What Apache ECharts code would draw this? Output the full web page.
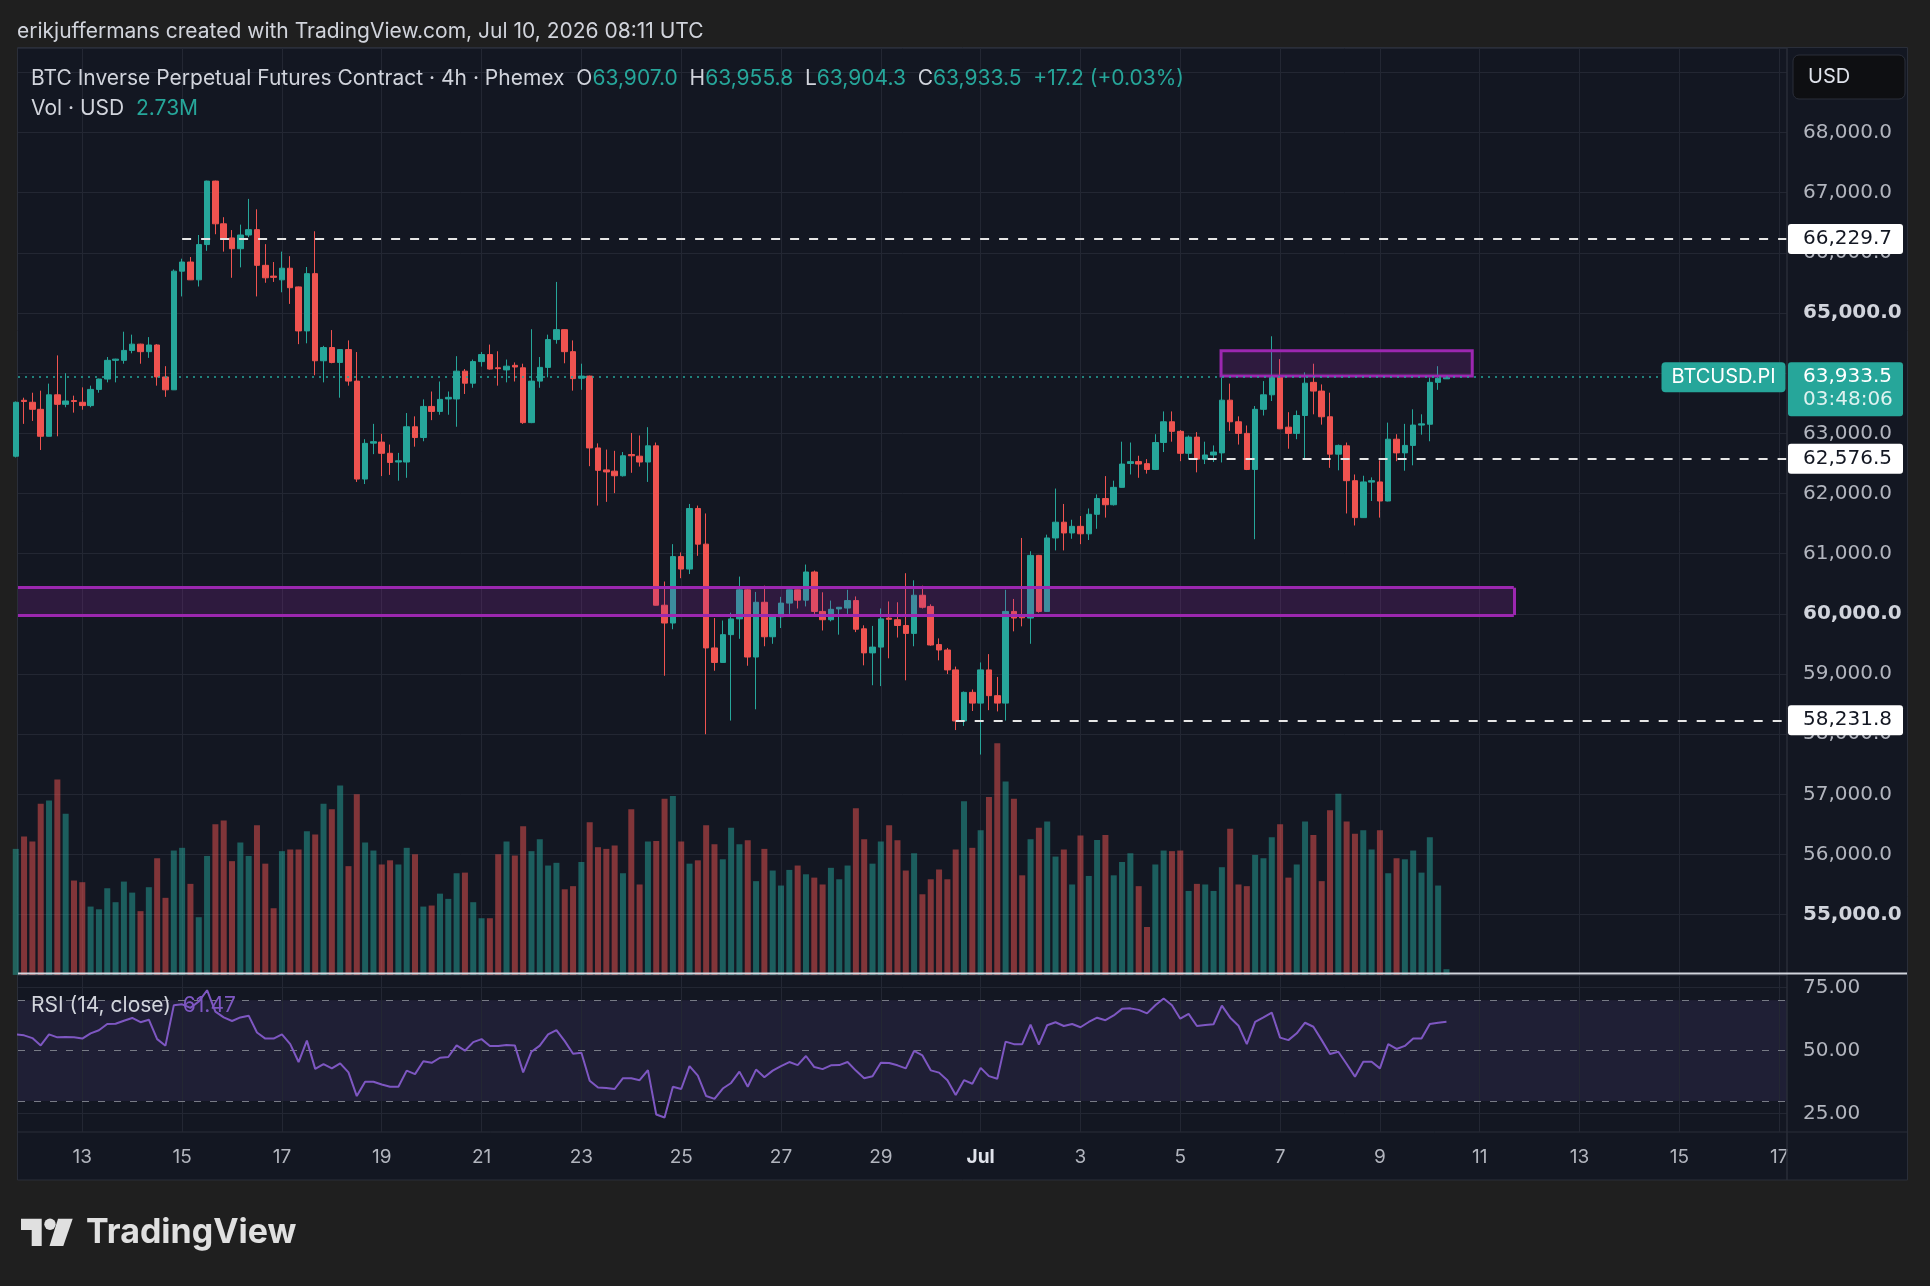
<!DOCTYPE html>
<html>
<head>
<meta charset="utf-8">
<title>BTCUSD.PI 4h</title>
<script src="https://cdn.jsdelivr.net/npm/echarts@6/dist/echarts.min.js"></script>
<style>
  html, body { margin: 0; padding: 0; background: #1f1f1f; }
  #chart { width: 1930px; height: 1286px; }
</style>
</head>
<body>
<div id="chart"></div>
<script>
// bar index 0 = Jun 13 00:00, one step = one 4h bar
const firstIndex = -8

const opens = [
  62620, 63550, 63517, 63400, 62952, 63641, 63483, 63545,
  63517, 63462, 63731, 63903, 64214, 64214, 64379, 64483, 64358, 64469,
  63938, 63724, 65696, 65848, 65552, 66138, 67193, 66483, 66248, 66069,
  66297, 66386, 65793, 65614, 65552, 65745, 65434, 64703, 65655, 64207,
  64427, 64179, 64393, 63869, 62241, 62838, 62855, 62669, 62524, 62524,
  63110, 62931, 63448, 63365, 63572, 63572, 64034, 63834, 64193, 64310,
  64090, 64055, 64131, 64090, 63179, 63869, 64097, 64559, 64724, 64358,
  63917, 63952, 62758, 62393, 62372, 62296, 62648, 62621, 62524, 62793,
  60144, 59848, 60952, 60745, 61752, 61159, 59434, 59193, 59655, 59917,
  60400, 59283, 60193, 59620, 59952, 60179, 60400, 60228, 60696, 60041,
  59903, 60083, 60097, 60221, 59752, 59352, 59448, 59930, 59903, 59807,
  59676, 60310, 60124, 59490, 59400, 59069, 58220, 58696, 58517, 59069,
  58641, 58517, 60041, 59959, 59931, 60972, 60041, 61262, 61524, 61345,
  61455, 61331, 61655, 61917, 61814, 62103, 62500, 62531, 62497, 62400,
  62848, 63193, 63034, 62669, 62938, 62572, 62641, 62676, 63552, 63193,
  63000, 62400, 63400, 63641, 63931, 63103, 63000, 63297, 63848, 63703,
  63276, 62655, 62793, 62214, 61600, 62190, 62193, 61876, 62903, 62676,
  62800, 63138, 63152, 63848, 63907.0
]
const highs = [
  63530, 63593, 63676, 63710, 63827, 64296, 64000, 63627,
  63765, 63793, 63910, 64269, 64240, 64690, 64641, 64490, 64600, 64483,
  64117, 65724, 65903, 65931, 66297, 67200, 67200, 66593, 66379, 66469,
  66897, 66724, 66145, 65848, 66021, 65945, 65440, 65765, 66359, 64455,
  64717, 64400, 64545, 64352, 62903, 63158, 62993, 62814, 62676, 63338,
  63283, 63565, 63696, 63862, 63696, 64283, 64069, 64227, 64352, 64476,
  64365, 64227, 64179, 64158, 64731, 64269, 64641, 65517, 64730, 64545,
  64158, 63960, 62834, 62731, 62710, 62690, 63007, 62965, 63103, 62848,
  60538, 61159, 61021, 61827, 61800, 61669, 59931, 59890, 60020, 60620,
  60410, 60365, 60469, 59960, 60283, 60405, 60405, 60820, 60720, 60359,
  60221, 60115, 60400, 60290, 59810, 59800, 60090, 60207, 60193, 60676,
  60558, 60469, 60159, 59593, 59434, 59124, 58710, 58744, 59193, 59331,
  58952, 60400, 60248, 61262, 61041, 60980, 61317, 62083, 61827, 61565,
  61627, 61752, 61986, 62290, 62214, 62862, 62848, 62628, 62572, 62986,
  63365, 63365, 63055, 62965, 63021, 62862, 62800, 63931, 63827, 63283,
  63131, 63455, 63869, 64614, 64234, 63352, 63379, 64014, 64158, 63814,
  63676, 62814, 62848, 62317, 62296, 62269, 62552, 63179, 62986, 63158,
  63400, 63317, 63931, 64117, 63955.8
]
const lows = [
  62600, 63158, 63207, 62724, 62950, 62952, 63434, 63345,
  63393, 63434, 63676, 63848, 63848, 64158, 64331, 64158, 64255, 63793,
  63607, 63720, 65276, 65548, 65441, 66034, 66310, 66021, 65586, 65759,
  66262, 65276, 65503, 65517, 65345, 65152, 64483, 64497, 63966, 63848,
  64165, 63593, 63793, 62193, 62158, 62655, 62290, 62310, 62214, 62262,
  62779, 62869, 63220, 63310, 63310, 63110, 63655, 63758, 64110, 64060,
  63793, 63848, 63862, 63158, 63170, 63758, 63931, 64490, 64165, 63710,
  63724, 62455, 61800, 61862, 62007, 62283, 62345, 62448, 62193, 60140,
  58972, 59745, 60593, 60662, 60965, 58000, 59055, 59190, 58227, 59586,
  59138, 58414, 59462, 59503, 59765, 60000, 60090, 60124, 60000, 59724,
  59876, 59655, 60000, 59697, 59145, 58814, 58800, 59262, 59607, 58896,
  59462, 60090, 59470, 59228, 59000, 58069, 58138, 58386, 57662, 58400,
  58379, 58227, 59710, 59793, 59503, 60020, 60035, 61055, 61055, 61248,
  61159, 61228, 61414, 61600, 61800, 62100, 62317, 62262, 62331, 62390,
  62690, 62862, 62538, 62572, 62352, 62490, 62524, 62517, 63041, 62814,
  62390, 61241, 63297, 63538, 63070, 62745, 62903, 62572, 63317, 63145,
  62427, 62386, 61669, 61469, 61595, 61876, 61600, 61870, 62538, 62379,
  62469, 62979, 62869, 63724, 63904.3
]
const closes = [
  63517, 63530, 63400, 62952, 63641, 63483, 63538, 63530,
  63462, 63731, 63903, 64214, 64234, 64379, 64483, 64358, 64469, 63938,
  63724, 65696, 65848, 65552, 66138, 67193, 66483, 66228, 66069, 66297,
  66386, 65793, 65586, 65593, 65745, 65421, 64703, 65655, 64207, 64427,
  64179, 64393, 63869, 62241, 62834, 62862, 62669, 62517, 62545, 63110,
  62931, 63448, 63365, 63565, 63599, 64034, 63834, 64193, 64310, 64069,
  64076, 64117, 64103, 63179, 63869, 64097, 64559, 64724, 64358, 63910,
  63952, 62758, 62386, 62359, 62296, 62628, 62628, 62524, 62793, 60144,
  59848, 60952, 60745, 61752, 61159, 59434, 59193, 59655, 59917, 60400,
  59283, 60193, 59620, 59952, 60179, 60400, 60228, 60696, 60041, 59903,
  60076, 60110, 60221, 59745, 59352, 59448, 59917, 59910, 59807, 59676,
  60310, 60110, 59483, 59400, 59069, 58220, 58696, 58517, 59069, 58641,
  58517, 60041, 59931, 59935, 60972, 60041, 61262, 61524, 61345, 61455,
  61331, 61655, 61917, 61814, 62103, 62490, 62530, 62490, 62400, 62848,
  63193, 63034, 62669, 62938, 62572, 62641, 62690, 63552, 63193, 63000,
  62400, 63400, 63641, 63931, 63076, 63000, 63297, 63834, 63703, 63276,
  62655, 62800, 62214, 61600, 62193, 62214, 61876, 62903, 62676, 62800,
  63138, 63158, 63848, 63916.3, 63933.5
]
// volume in millions USD
const volumes = [
  60.5, 66.4, 64.0, 82.1, 83.7, 93.8, 77.3, 45.3,
  44.5, 32.8, 31.5, 41.6, 34.9, 44.8, 39.5, 30.6, 42.1, 56.0,
  37.0, 59.7, 61.0, 43.7, 27.7, 57.1, 72.3, 74.1, 54.6, 63.5,
  57.1, 71.8, 53.4, 32.0, 59.4, 60.2, 60.2, 69.0, 67.4, 82.1,
  79.5, 90.9, 52.2, 86.7, 63.5, 59.7, 53.0, 55.0, 53.0, 61.0,
  57.9, 32.8, 33.3, 39.0, 36.5, 48.8, 49.1, 34.9, 27.2, 27.2,
  57.9, 64.0, 57.3, 71.4, 59.4, 65.1, 52.5, 53.8, 41.1, 42.6,
  54.2, 73.3, 61.3, 60.5, 62.1, 48.8, 79.5, 43.4, 64.0, 64.3,
  84.6, 85.9, 64.0, 53.4, 55.0, 71.8, 62.7, 55.5, 70.6, 62.7,
  64.6, 45.0, 60.5, 50.1, 42.9, 50.4, 52.5, 48.3, 46.7, 43.4,
  51.4, 45.9, 52.5, 80.0, 65.1, 53.4, 64.0, 71.8, 64.6, 50.1,
  58.4, 38.7, 45.9, 50.6, 45.9, 60.2, 83.4, 61.0, 69.4, 85.4,
  111.2, 92.8, 84.6, 47.8, 65.1, 70.6, 73.6, 56.8, 60.2, 43.4,
  66.9, 47.5, 64.8, 67.2, 47.8, 54.2, 58.4, 42.6, 23.0, 53.0,
  59.7, 59.4, 59.7, 40.3, 43.7, 43.4, 40.3, 51.7, 70.2, 43.4,
  42.6, 57.6, 56.0, 66.1, 72.3, 46.7, 53.0, 73.6, 67.2, 45.0,
  79.0, 87.0, 73.6, 67.7, 69.4, 60.2, 69.4, 48.8, 56.0, 55.5,
  59.7, 49.1, 66.1, 42.9, 2.73
]
const rsiValues = [
  56.5, 56.1, 55.0, 52.1, 56.5, 55.3, 55.4, 55.3,
  54.8, 56.9, 58.1, 60.6, 60.7, 61.9, 63.0, 61.3, 62.3, 54.6,
  52.0, 68.0, 68.4, 67.0, 69.5, 74.0, 65.5, 63.2, 61.8, 63.2,
  63.9, 57.2, 54.8, 54.8, 56.5, 52.6, 45.5, 54.0, 42.8, 44.7,
  43.0, 45.0, 41.4, 32.0, 37.7, 37.7, 36.6, 35.7, 35.7, 42.1,
  40.7, 45.8, 45.2, 47.2, 47.5, 52.1, 50.0, 53.4, 54.6, 51.9,
  51.9, 52.3, 52.1, 41.4, 49.6, 52.0, 56.5, 58.2, 53.8, 48.8,
  49.2, 38.1, 35.4, 35.2, 34.8, 39.1, 39.1, 38.3, 42.3, 24.7,
  23.5, 35.7, 34.8, 43.9, 40.1, 32.0, 30.9, 35.0, 37.2, 41.7,
  35.7, 42.5, 39.5, 42.1, 43.9, 45.5, 44.3, 47.9, 43.5, 42.7,
  44.2, 44.3, 45.5, 42.1, 39.1, 39.9, 45.2, 45.1, 44.2, 43.0,
  49.9, 48.1, 42.2, 41.3, 38.3, 32.4, 38.3, 36.9, 43.2, 39.9,
  38.9, 53.6, 52.6, 52.6, 60.3, 52.4, 60.1, 61.3, 59.8, 60.6,
  59.3, 61.4, 63.1, 62.1, 64.0, 66.6, 66.8, 66.2, 64.8, 68.0,
  70.7, 68.0, 62.7, 64.6, 59.8, 60.2, 60.5, 67.9, 63.1, 59.9,
  52.6, 61.4, 63.2, 65.1, 55.2, 54.2, 56.9, 61.1, 59.5, 54.2,
  48.7, 49.6, 44.7, 39.7, 45.6, 45.6, 43.0, 52.6, 50.7, 51.9,
  54.8, 54.8, 60.6, 61.1, 61.47
]

// date ticks: bar index of each 00:00 gridline and its label
const dateTickIdx = [0, 12, 24, 36, 48, 60, 72, 84, 96, 108, 120, 132, 144, 156, 168, 180, 192, 204]
const dateTickLabels = ['13', '15', '17', '19', '21', '23', '25', '27', '29', 'Jul', '3', '5', '7', '9', '11', '13', '15', '17']

// horizontal levels drawn on the chart (starting bar, price)
const refLevels = [
  { from: 12, value: 66229.7 },
  { from: 133, value: 62576.5 },
  { from: 105, value: 58231.8 }
]
// rectangles: [from bar, to bar, low price, high price]
const lowerZone = [null, 172.1, 59980, 60435]
const upperZone = [136.9, 167.1, 63952, 64372]

const rsiTicks = [25, 50, 75]

const UP = '#26a69a'
const DOWN = '#ef5350'
const UP_VOL = 'rgba(38,166,154,0.5)'
const DOWN_VOL = 'rgba(239,83,80,0.5)'
const PURPLE = '#9c27b0'
const GRID = '#232733'
const AXIS_TEXT = '#b2b5be'
const NUM_FONT = 'DejaVu Sans'
const UI_FONT = 'Inter'

const xMin = -7.73
const xMax = 204.94

const last = closes.length - 1
const lastPrice = closes[last]

function fmtPrice(v) {
  return v.toLocaleString('en-US', { minimumFractionDigits: 1, maximumFractionDigits: 1 })
}

const candles = opens.map((o, i) => [firstIndex + i, o, closes[i], lows[i], highs[i]])
const volBars = volumes.map((v, i) => ({
  value: [firstIndex + i, v],
  itemStyle: { color: closes[i] >= opens[i] ? UP_VOL : DOWN_VOL }
}))
const rsiLine = rsiValues.map((v, i) => [firstIndex + i, v])

const gridLineStyle = { color: GRID, width: 1, type: 'solid' }
const dashGray = { color: '#787b86', width: 1.2, type: [7, 9] }
const refLineStyle = { color: '#e6e6e6', width: 2, type: [9, 10] }
const zoneEdge = { color: PURPLE, width: 3, type: 'solid' }

const option = {
  backgroundColor: '#1f1f1f',
  animation: false,
  grid: [
    { left: 18, top: 48.3, width: 1769, height: 926.6 },
    { left: 18, top: 974.9, width: 1769, height: 156.8 }
  ],
  xAxis: [
    { type: 'value', gridIndex: 0, min: xMin, max: xMax, show: false },
    {
      type: 'value', gridIndex: 1, min: xMin, max: xMax,
      axisLine: { show: false },
      axisTick: { show: false },
      splitLine: { show: false },
      axisLabel: {
        customValues: dateTickIdx,
        margin: 16,
        color: AXIS_TEXT,
        fontFamily: UI_FONT,
        fontSize: 19,
        formatter: v => {
          const s = dateTickLabels[dateTickIdx.indexOf(v)]
          return s === 'Jul' ? '{b|Jul}' : s
        },
        rich: { b: { fontWeight: 'bold', color: '#e0e3eb', fontFamily: UI_FONT, fontSize: 19 } }
      }
    }
  ],
  yAxis: [
    {
      type: 'value', gridIndex: 0, position: 'right',
      min: 54000, max: 69400, interval: 1000,
      axisLine: { show: false },
      axisTick: { show: false },
      splitLine: { show: true, lineStyle: { color: GRID, width: 1 } },
      axisLabel: {
        margin: 16,
        color: AXIS_TEXT,
        fontFamily: NUM_FONT,
        fontSize: 20,
        formatter: v => {
          if (v % 1000 !== 0 || v === 54000) return ''
          const s = fmtPrice(v)
          return v % 5000 === 0 ? '{b|' + s + '}' : s
        },
        rich: { b: { fontWeight: 'bold', color: '#d1d4dc', fontFamily: NUM_FONT, fontSize: 20 } }
      }
    },
    { type: 'value', gridIndex: 0, min: 0, max: 444.8, show: false },
    {
      type: 'value', gridIndex: 1, position: 'right',
      min: 17.86, max: 80.08,
      axisLine: { show: false },
      axisTick: { show: false },
      splitLine: { show: false },
      axisLabel: {
        customValues: rsiTicks,
        margin: 16,
        color: AXIS_TEXT,
        fontFamily: NUM_FONT,
        fontSize: 20,
        formatter: v => v.toFixed(2)
      }
    }
  ],
  series: [
    {
      name: 'Vol',
      type: 'bar',
      xAxisIndex: 0,
      yAxisIndex: 1,
      barWidth: 6,
      z: 2,
      data: volBars,
      markLine: {
        silent: true, z: 1, symbol: ['none', 'none'], label: { show: false },
        lineStyle: gridLineStyle,
        data: dateTickIdx.map(v => ({ xAxis: v }))
      }
    },
    {
      name: 'BTCUSD.PI',
      type: 'candlestick',
      xAxisIndex: 0,
      yAxisIndex: 0,
      barWidth: 6,
      z: 3,
      data: candles,
      itemStyle: {
        color: UP, color0: DOWN,
        borderColor: UP, borderColor0: DOWN,
        borderWidth: 1
      },
      markArea: {
        silent: true, z: 4,
        data: [
          [
            { coord: [xMin, lowerZone[2]], itemStyle: { color: 'rgba(156,39,176,0.2)', borderWidth: 0 } },
            { coord: [lowerZone[1], lowerZone[3]] }
          ],
          [
            { coord: [upperZone[0], upperZone[2]], itemStyle: { color: 'rgba(156,39,176,0.2)', borderColor: PURPLE, borderWidth: 3 } },
            { coord: [upperZone[1], upperZone[3]] }
          ]
        ]
      },
      markLine: {
        silent: true, z: 6, symbol: ['none', 'none'], label: { show: false },
        data: [
          // open-ended lower zone: top, bottom and right edges
          [{ coord: [xMin, lowerZone[3]], lineStyle: zoneEdge }, { coord: [lowerZone[1], lowerZone[3]] }],
          [{ coord: [xMin, lowerZone[2]], lineStyle: zoneEdge }, { coord: [lowerZone[1], lowerZone[2]] }],
          [{ coord: [lowerZone[1], lowerZone[2]], lineStyle: zoneEdge }, { coord: [lowerZone[1], lowerZone[3]] }],
          ...refLevels.map(r => [
            { coord: [r.from, r.value], lineStyle: refLineStyle },
            { coord: [xMax, r.value] }
          ]),
          { yAxis: lastPrice, lineStyle: { color: UP, width: 1.5, type: [2, 5] } }
        ]
      }
    },
    {
      name: 'RSI',
      type: 'line',
      xAxisIndex: 1,
      yAxisIndex: 2,
      z: 3,
      symbol: 'none',
      data: rsiLine,
      lineStyle: { color: '#7e57c2', width: 2 },
      markArea: {
        silent: true, z: 1,
        itemStyle: { color: 'rgba(126,87,194,0.12)' },
        data: [[{ yAxis: 30 }, { yAxis: 70 }]]
      },
      markLine: {
        silent: true, z: 2, symbol: ['none', 'none'], label: { show: false },
        lineStyle: gridLineStyle,
        data: [
          ...dateTickIdx.map(v => ({ xAxis: v })),
          { yAxis: 25 },
          { yAxis: 75 },
          { yAxis: 30, lineStyle: dashGray },
          { yAxis: 50, lineStyle: dashGray },
          { yAxis: 70, lineStyle: dashGray }
        ]
      }
    }
  ]
}

const chart = echarts.init(document.getElementById('chart'))
chart.setOption(option)

// right-hand tags, placed through the price scale
const py = v => chart.convertToPixel({ yAxisIndex: 0 }, v)
const tagFont = '20px "' + NUM_FONT + '"'
const tags = []
refLevels.forEach(r => {
  const y = py(r.value)
  tags.push({ type: 'rect', z: 20, shape: { x: 1788, y: y - 15, width: 115, height: 30, r: 3 }, style: { fill: '#ffffff' } })
  tags.push({ type: 'text', z: 21, x: 1803, y: y, style: { text: fmtPrice(r.value), fill: '#131722', font: tagFont, verticalAlign: 'middle' } })
})
const yc = py(lastPrice)
tags.push({ type: 'rect', z: 20, shape: { x: 1661.5, y: yc - 15, width: 124, height: 30, r: 4 }, style: { fill: UP } })
tags.push({ type: 'text', z: 21, x: 1723.5, y: yc, style: { text: 'BTCUSD.PI', fill: '#ffffff', font: '20px ' + UI_FONT, align: 'center', verticalAlign: 'middle' } })
tags.push({ type: 'rect', z: 20, shape: { x: 1788, y: yc - 15, width: 115, height: 54, r: 3 }, style: { fill: UP } })
tags.push({ type: 'text', z: 21, x: 1803, y: yc, style: { text: fmtPrice(lastPrice), fill: '#ffffff', font: tagFont, verticalAlign: 'middle' } })
tags.push({ type: 'text', z: 21, x: 1803, y: yc + 23, style: { text: '03:48:06', fill: 'rgba(255,255,255,0.85)', font: tagFont, verticalAlign: 'middle' } })

const chg = lastPrice - closes[last - 1]
const chgPct = chg / closes[last - 1] * 100
const sign = chg >= 0 ? '+' : ''
const legendText =
  '{g|BTC Inverse Perpetual Futures Contract · 4h · Phemex  O}{v|' + fmtPrice(opens[last]) + '}' +
  '{g|  H}{v|' + fmtPrice(highs[last]) + '}' +
  '{g|  L}{v|' + fmtPrice(lows[last]) + '}' +
  '{g|  C}{v|' + fmtPrice(lastPrice) + '}' +
  '{v|  ' + sign + chg.toFixed(1) + ' (' + sign + chgPct.toFixed(2) + '%)}'
const uiRich = {
  g: { fill: '#d1d4dc', font: '21px ' + UI_FONT },
  v: { fill: UP, font: '21px ' + UI_FONT },
  p: { fill: '#7e57c2', font: '21px ' + UI_FONT }
}

const frame = [
  { type: 'rect', z: -10, shape: { x: 17.5, y: 47.5, width: 1890, height: 1132.5 }, style: { fill: '#131722', stroke: '#2a2e39', lineWidth: 1 } },
  { type: 'line', z: 10, shape: { x1: 1787, y1: 47.5, x2: 1787, y2: 1180 }, style: { stroke: '#2a2e39', lineWidth: 1.5 } },
  { type: 'line', z: 10, shape: { x1: 18, y1: 973.5, x2: 1907, y2: 973.5 }, style: { stroke: '#d1d4dc', lineWidth: 2 } },
  { type: 'line', z: 10, shape: { x1: 18, y1: 1132, x2: 1907, y2: 1132 }, style: { stroke: '#2a2e39', lineWidth: 1 } },
  // currency button
  { type: 'rect', z: 20, shape: { x: 1793, y: 55, width: 112, height: 44, r: 6 }, style: { fill: '#0e0f12', stroke: '#2a2e39', lineWidth: 1 } },
  { type: 'text', z: 21, x: 1808, y: 77, style: { text: 'USD', fill: '#e0e3eb', font: '20px ' + UI_FONT, verticalAlign: 'middle' } },
  // header
  { type: 'text', x: 17, y: 31.5, style: { text: 'erikjuffermans created with TradingView.com, Jul 10, 2026 08:11 UTC', fill: '#d1d4dc', font: '21px ' + UI_FONT, verticalAlign: 'middle' } },
  { type: 'text', z: 21, x: 31, y: 79, style: { text: legendText, rich: uiRich, verticalAlign: 'middle' } },
  { type: 'text', z: 21, x: 31, y: 109, style: { text: '{g|Vol · USD  }{v|' + volumes[last].toFixed(2) + 'M}', rich: uiRich, verticalAlign: 'middle' } },
  { type: 'text', z: 21, x: 31, y: 1006, style: { text: '{g|RSI (14, close)  }{p|' + rsiValues[last].toFixed(2) + '}', rich: uiRich, verticalAlign: 'middle' } },
  // TradingView logo
  { type: 'polygon', shape: { points: [[21, 1218.7], [41.7, 1218.7], [41.7, 1246], [31.7, 1246], [31.7, 1230], [21, 1230]] }, style: { fill: '#e0e0e0' } },
  { type: 'circle', shape: { cx: 50, cy: 1224.3, r: 5.7 }, style: { fill: '#e0e0e0' } },
  { type: 'polygon', shape: { points: [[58, 1218.7], [72.7, 1218.7], [63.3, 1246], [49.5, 1246]] }, style: { fill: '#e0e0e0' } },
  { type: 'text', x: 86, y: 1233, style: { text: 'TradingView', fill: '#e0e0e0', font: 'bold 34px Inter', verticalAlign: 'middle' } }
]

chart.setOption({ graphic: { elements: frame.concat(tags) } })
</script>
</body>
</html>
